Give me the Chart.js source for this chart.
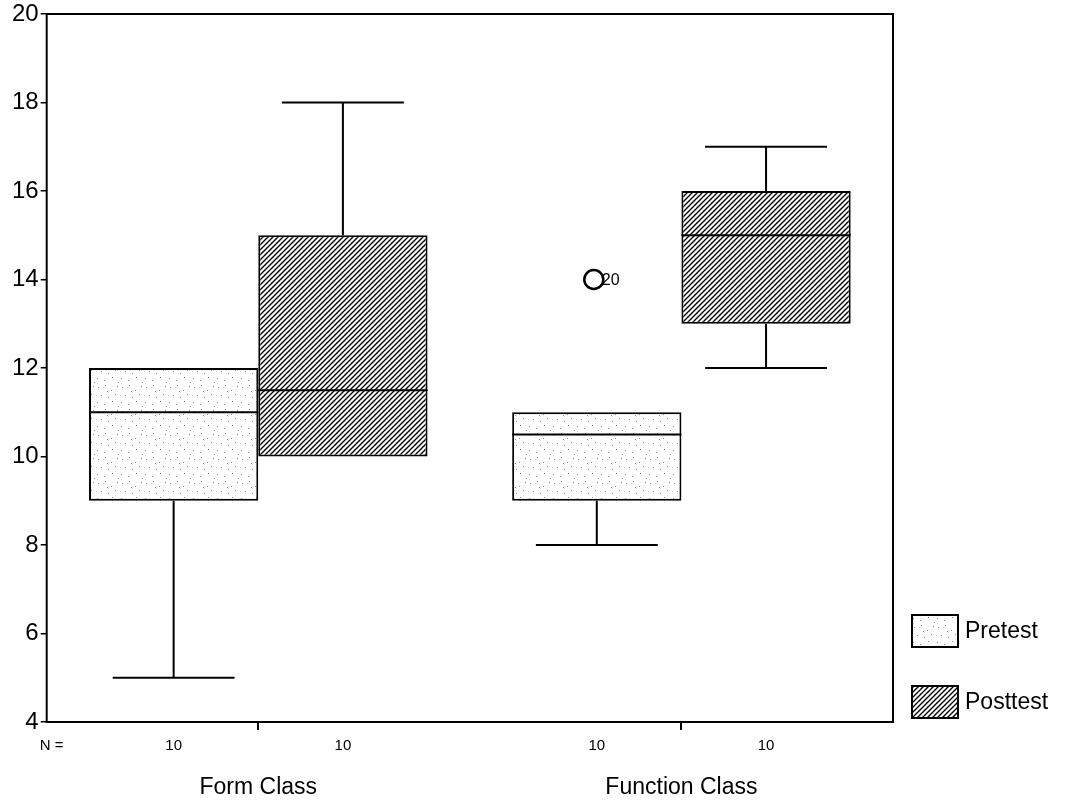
<!DOCTYPE html>
<html>
<head>
<meta charset="utf-8">
<script src="https://cdn.jsdelivr.net/npm/chart.js@4.4.0/dist/chart.umd.min.js"></script>
<style>
  html, body { margin: 0; padding: 0; background: #fff; }
  #chart-container { width: 1073px; height: 801px; }
</style>
</head>
<body>
<div id="chart-container"><canvas id="myChart"></canvas></div>
<script>
// Dữ liệu boxplot
const categories = ['Form Class', 'Function Class'];
const seriesNames = ['Pretest', 'Posttest'];

const pretestMin = [5, 8];
const pretestQ1 = [9, 9];
const pretestMedian = [11, 10.5];
const pretestQ3 = [12, 11];
const pretestMax = [12, 11];
const pretestN = [10, 10];
const pretestOutliers = [[], [14]];
const pretestOutlierLabels = [[], ['20']];

const posttestMin = [10, 12];
const posttestQ1 = [10, 13];
const posttestMedian = [11.5, 15];
const posttestQ3 = [15, 16];
const posttestMax = [18, 17];
const posttestN = [10, 10];
const posttestOutliers = [[], []];
const posttestOutlierLabels = [[], []];

const yTicks = [4, 6, 8, 10, 12, 14, 16, 18, 20];

const FONT = '"Liberation Sans", Arial, sans-serif';

// Tạo pattern chấm (Pretest) và gạch chéo (Posttest)
function makeStipple() {
    const c = document.createElement('canvas');
    c.width = 24; c.height = 24;
    const g = c.getContext('2d');
    g.fillStyle = '#fff';
    g.fillRect(0, 0, 24, 24);
    g.fillStyle = '#8a8a8a';
    const dots = [[2, 3], [9, 1], [15, 6], [21, 2], [5, 11], [12, 13], [19, 10], [1, 18], [8, 20], [16, 17], [22, 22], [11, 7]];
    dots.forEach(d => g.fillRect(d[0], d[1], 1, 1));
    return g.createPattern(c, 'repeat');
}

function makeHatch() {
    const n = 5;
    const c = document.createElement('canvas');
    c.width = n; c.height = n;
    const g = c.getContext('2d');
    g.fillStyle = '#fff';
    g.fillRect(0, 0, n, n);
    g.strokeStyle = '#000';
    g.lineWidth = 1.4;
    g.beginPath();
    g.moveTo(-1, n + 1); g.lineTo(n + 1, -1);
    g.moveTo(-1, 1); g.lineTo(1, -1);
    g.moveTo(n - 1, n + 1); g.lineTo(n + 1, n - 1);
    g.stroke();
    return g.createPattern(c, 'repeat');
}

const stats = [
    { min: pretestMin, q1: pretestQ1, med: pretestMedian, q3: pretestQ3, max: pretestMax, n: pretestN, out: pretestOutliers, outLbl: pretestOutlierLabels },
    { min: posttestMin, q1: posttestQ1, med: posttestMedian, q3: posttestQ3, max: posttestMax, n: posttestN, out: posttestOutliers, outLbl: posttestOutlierLabels }
];

function hLine(ctx, x1, x2, y) {
    ctx.beginPath(); ctx.moveTo(x1, y); ctx.lineTo(x2, y); ctx.stroke();
}
function vLine(ctx, x, y1, y2) {
    ctx.beginPath(); ctx.moveTo(x, y1); ctx.lineTo(x, y2); ctx.stroke();
}

// Plugin vẽ trung vị, râu, ngoại lai, khung, hàng N và chú thích
const boxPlugin = {
    id: 'boxExtras',
    afterDatasetsDraw(chart) {
        const ctx = chart.ctx;
        const y = chart.scales.y;
        ctx.save();
        ctx.strokeStyle = '#000';
        ctx.lineWidth = 2;
        stats.forEach((s, di) => {
            const meta = chart.getDatasetMeta(di);
            meta.data.forEach((bar, i) => {
                const { x, width } = bar.getProps(['x', 'width'], true);
                const half = width / 2;
                const cap = width * 0.36;
                hLine(ctx, x - half, x + half, y.getPixelForValue(s.med[i]));
                if (s.min[i] < s.q1[i]) {
                    vLine(ctx, x, y.getPixelForValue(s.q1[i]), y.getPixelForValue(s.min[i]));
                    hLine(ctx, x - cap, x + cap, y.getPixelForValue(s.min[i]));
                }
                if (s.max[i] > s.q3[i]) {
                    vLine(ctx, x, y.getPixelForValue(s.q3[i]), y.getPixelForValue(s.max[i]));
                    hLine(ctx, x - cap, x + cap, y.getPixelForValue(s.max[i]));
                }
                s.out[i].forEach((v, k) => {
                    const py = y.getPixelForValue(v);
                    ctx.lineWidth = 2.5;
                    ctx.beginPath();
                    ctx.arc(x - 3, py, 9.5, 0, Math.PI * 2);
                    ctx.stroke();
                    ctx.lineWidth = 2;
                    ctx.fillStyle = '#000';
                    ctx.font = '16px ' + FONT;
                    ctx.textAlign = 'left';
                    ctx.textBaseline = 'middle';
                    ctx.fillText(s.outLbl[i][k], x + 5, py + 1);
                });
            });
        });
        ctx.restore();
    },
    afterDraw(chart) {
        const ctx = chart.ctx;
        const a = chart.chartArea;
        ctx.save();
        // Khung
        ctx.strokeStyle = '#000';
        ctx.lineWidth = 2;
        ctx.strokeRect(a.left, a.top, a.right - a.left, a.bottom - a.top);

        // Hàng N
        ctx.fillStyle = '#000';
        ctx.font = '15px ' + FONT;
        ctx.textBaseline = 'middle';
        ctx.textAlign = 'center';
        const nY = a.bottom + 24;
        ctx.fillText('N =', a.left + 5, nY);
        stats.forEach((s, di) => {
            chart.getDatasetMeta(di).data.forEach((bar, i) => {
                ctx.fillText(String(s.n[i]), bar.x, nY);
            });
        });

        // Chú thích
        const lx = a.right + 19;
        const boxW = 46, boxH = 32;
        const rowY = [a.bottom - 107, a.bottom - 36];
        chart.data.datasets.forEach((ds, di) => {
            ctx.fillStyle = ds.backgroundColor;
            ctx.fillRect(lx, rowY[di], boxW, boxH);
            ctx.strokeRect(lx, rowY[di], boxW, boxH);
            ctx.fillStyle = '#000';
            ctx.font = '23px ' + FONT;
            ctx.textAlign = 'left';
            ctx.fillText(ds.label, lx + boxW + 7, rowY[di] + boxH / 2 + 1);
        });
        ctx.restore();
    }
};

const ctx = document.getElementById('myChart');
const myChart = new Chart(ctx.getContext('2d'), {
    type: 'bar',
    data: {
        labels: categories,
        datasets: [
            {
                label: seriesNames[0],
                data: categories.map((c, i) => [pretestQ1[i], pretestQ3[i]]),
                backgroundColor: makeStipple(),
                borderColor: '#000',
                borderWidth: 2,
                borderSkipped: false
            },
            {
                label: seriesNames[1],
                data: categories.map((c, i) => [posttestQ1[i], posttestQ3[i]]),
                backgroundColor: makeHatch(),
                borderColor: '#000',
                borderWidth: 2,
                borderSkipped: false
            }
        ]
    },
    options: {
        responsive: true,
        maintainAspectRatio: false,
        animation: false,
        events: [],
        datasets: { bar: { categoryPercentage: 0.8, barPercentage: 1.0 } },
        layout: { padding: { left: 10, right: 180, top: 0, bottom: 0 } },
        plugins: {
            legend: { display: false },
            tooltip: { enabled: false }
        },
        scales: {
            x: {
                afterFit(scale) { scale.height = 79; },
                grid: { offset: false, drawOnChartArea: false, drawTicks: true, tickLength: 8, color: '#000', lineWidth: 2 },
                border: { display: false },
                ticks: { color: '#000', padding: 44, maxRotation: 0, font: { family: FONT, size: 23 } }
            },
            y: {
                min: 4,
                max: 20,
                afterBuildTicks(scale) { scale.ticks = yTicks.map(v => ({ value: v })); },
                grid: { drawOnChartArea: false, drawTicks: true, tickLength: 6, color: '#000', lineWidth: 1.5 },
                border: { display: false },
                ticks: { color: '#000', padding: 2, font: { family: FONT, size: 24, lineHeight: 1.0 } }
            }
        }
    },
    plugins: [boxPlugin]
});
</script>
</body>
</html>
